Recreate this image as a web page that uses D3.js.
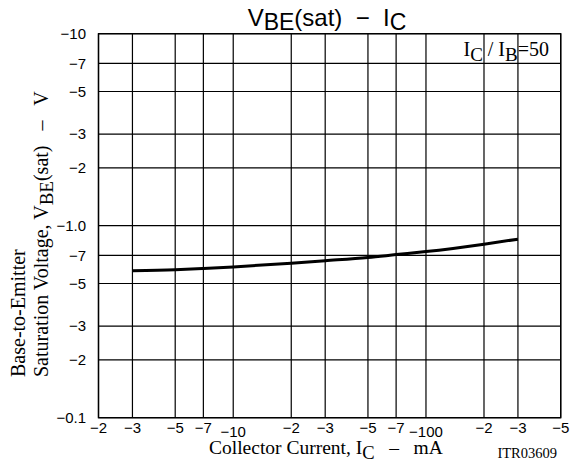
<!DOCTYPE html>
<html>
<head>
<meta charset="utf-8">
<script src="https://cdn.jsdelivr.net/npm/d3@7"></script>
<style>
  body { margin: 0; background: #fff; }
  svg { display: block; }
  text { white-space: pre; }
  .sans { font-family: "Liberation Sans", Arial, sans-serif; }
  .serif { font-family: "Liberation Serif", "Times New Roman", serif; }
</style>
</head>
<body>
<svg id="chart"></svg>
<script>
// collector current (mA) and VBE(sat) (V)
let icValues = [-3, -5, -7, -10, -20, -30, -50, -70, -100, -200, -300];
let vbeValues = [-0.582, -0.589, -0.598, -0.610, -0.638, -0.657, -0.683, -0.707, -0.733, -0.801, -0.851];

// ticks
let xTicks = [-2, -3, -5, -7, -10, -20, -30, -50, -70, -100, -200, -300, -500];
let xTickLabels = ["\u22122", "\u22123", "\u22125", "\u22127", "\u221210", "\u22122", "\u22123", "\u22125", "\u22127", "\u2212100", "\u22122", "\u22123", "\u22125"];
let yTicks = [-10, -7, -5, -3, -2, -1, -0.7, -0.5, -0.3, -0.2, -0.1];
let yTickLabels = ["\u221210", "\u22127", "\u22125", "\u22123", "\u22122", "\u22121.0", "\u22127", "\u22125", "\u22123", "\u22122", "\u22120.1"];

let width = 579, height = 464;
let margin = {top: 33.7, right: 18.3, bottom: 46.3, left: 98.5};

let svg = d3.select("#chart")
    .attr("width", width)
    .attr("height", height);

let x = d3.scaleLog()
    .domain([-2, -500])
    .range([margin.left, width - margin.right]);

let y = d3.scaleLog()
    .domain([-0.1, -10])
    .range([height - margin.bottom, margin.top]);

//grille verticale
svg.append("g")
  .selectAll("line")
  .data(xTicks)
  .enter().append("line")
    .attr("x1", d => x(d)).attr("x2", d => x(d))
    .attr("y1", margin.top).attr("y2", height - margin.bottom)
    .attr("stroke", "#000")
    .attr("stroke-width", 1.2);

//grille horizontale
svg.append("g")
  .selectAll("line")
  .data(yTicks)
  .enter().append("line")
    .attr("x1", margin.left).attr("x2", width - margin.right)
    .attr("y1", d => y(d)).attr("y2", d => y(d))
    .attr("stroke", "#000")
    .attr("stroke-width", 1.2);

//cadre
svg.append("rect")
    .attr("x", margin.left).attr("y", margin.top)
    .attr("width", width - margin.left - margin.right)
    .attr("height", height - margin.top - margin.bottom)
    .attr("fill", "none")
    .attr("stroke", "#000")
    .attr("stroke-width", 1.4);

//étiquettes x (décades un peu plus bas)
svg.append("g")
  .selectAll("text")
  .data(xTicks)
  .enter().append("text")
    .attr("class", "sans")
    .attr("x", d => x(d))
    .attr("y", d => (d === -10 || d === -100) ? 437 : 433)
    .attr("text-anchor", "middle")
    .attr("font-size", 15)
    .text((d, i) => xTickLabels[i]);

//étiquettes y
svg.append("g")
  .selectAll("text")
  .data(yTicks)
  .enter().append("text")
    .attr("class", "sans")
    .attr("x", 86)
    .attr("y", d => y(d))
    .attr("dy", "0.35em")
    .attr("text-anchor", "end")
    .attr("font-size", 15)
    .text((d, i) => yTickLabels[i]);

//courbe
let line = d3.line()
    .x((d, i) => x(icValues[i]))
    .y(d => y(d))
    .curve(d3.curveMonotoneX);

svg.append("path")
    .datum(vbeValues)
    .attr("d", line)
    .attr("fill", "none")
    .attr("stroke", "#000")
    .attr("stroke-width", 3);

//titre
let title = svg.append("text")
    .attr("class", "sans")
    .attr("x", 327)
    .attr("y", 26)
    .attr("text-anchor", "middle")
    .attr("font-size", 24);
title.append("tspan").text("V");
title.append("tspan").attr("dy", 4).attr("font-size", 23).text("BE");
title.append("tspan").attr("dy", -4).text("(sat)  \u2212  I");
title.append("tspan").attr("dy", 4).attr("font-size", 23).text("C");

//condition
let cond = svg.append("text")
    .attr("class", "serif")
    .attr("x", 549)
    .attr("y", 56)
    .attr("text-anchor", "end")
    .attr("font-size", 20);
cond.append("tspan").text("I");
cond.append("tspan").attr("dy", 5).attr("font-size", 19).text("C");
cond.append("tspan").attr("dy", -5).text(" / I");
cond.append("tspan").attr("dy", 5).attr("font-size", 19).text("B");
cond.append("tspan").attr("dy", -5).text("=50");

//titre axe x
let xLabel = svg.append("text")
    .attr("class", "serif")
    .attr("x", 209)
    .attr("y", 454)
    .attr("font-size", 19.5);
xLabel.append("tspan").text("Collector Current, I");
xLabel.append("tspan").attr("dy", 5).attr("font-size", 18.5).text("C");
xLabel.append("tspan").attr("dy", -5).text("   \u2013   mA");

svg.append("text")
    .attr("class", "serif")
    .attr("x", 557)
    .attr("y", 458)
    .attr("text-anchor", "end")
    .attr("font-size", 14.5)
    .text("ITR03609");

//titre axe y
let yLab = svg.append("g")
    .attr("transform", "rotate(-90)");
yLab.append("text")
    .attr("class", "serif")
    .attr("x", -377)
    .attr("y", 25)
    .attr("font-size", 20)
    .text("Base-to-Emitter");
let yLab2 = yLab.append("text")
    .attr("class", "serif")
    .attr("x", -377)
    .attr("y", 48)
    .attr("font-size", 20);
yLab2.append("tspan").text("Saturation Voltage, V");
yLab2.append("tspan").attr("dy", 5).attr("font-size", 19).text("BE");
yLab2.append("tspan").attr("dy", -5).text("(sat)   \u2013   V");
</script>
</body>
</html>
